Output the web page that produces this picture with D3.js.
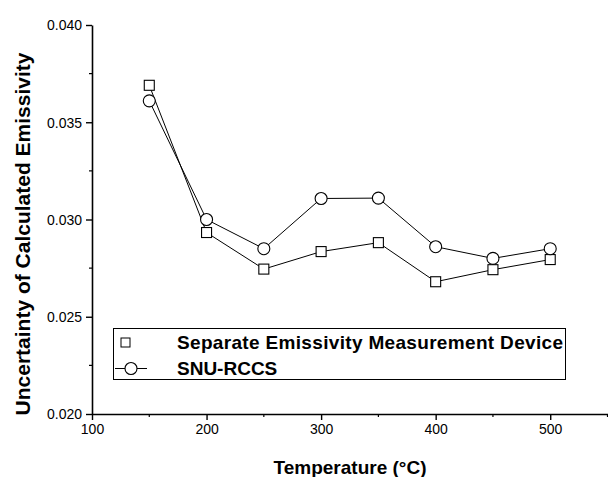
<!DOCTYPE html>
<html>
<head>
<meta charset="utf-8">
<script src="https://cdn.jsdelivr.net/npm/d3@7"></script>
<style>
  html, body { margin: 0; padding: 0; background: #fff; }
  svg { display: block; font-family: "Liberation Sans", Arial, sans-serif; }
</style>
</head>
<body>
<svg id="chart" width="608" height="477"></svg>
<script>
// Temperatures (°C) at which the uncertainty was evaluated
const temperatures = [150, 200, 250, 300, 350, 400, 450, 500];
// Uncertainty of calculated emissivity, per method
const separateDevice = [0.0369, 0.02933, 0.02745, 0.02835, 0.02881, 0.0268, 0.02742, 0.02794];
const snuRccs = [0.0361, 0.0300, 0.0285, 0.03108, 0.0311, 0.0286, 0.0280, 0.0285];
const seriesNames = ["Separate Emissivity Measurement Device", "SNU-RCCS"];
const xTicks = [100, 200, 300, 400, 500];
const xMinorTicks = [150, 250, 350, 450, 550];
const yTicks = [0.020, 0.025, 0.030, 0.035, 0.040];
const yMinorTicks = [0.0225, 0.0275, 0.0325, 0.0375];

const svg = d3.select("#chart");

const x = d3.scaleLinear().domain([100, 550]).range([92, 607.5]);
const y = d3.scaleLinear().domain([0.020, 0.040]).range([414, 25]);

// Axes
const xAxis = d3.axisBottom(x).tickValues(xTicks).tickFormat(d3.format("d"))
  .tickSizeInner(6).tickSizeOuter(0).tickPadding(4);
const yAxis = d3.axisLeft(y).tickValues(yTicks).tickFormat(d3.format(".3f"))
  .tickSizeInner(6).tickSizeOuter(0).tickPadding(4);

const gx = svg.append("g").attr("transform", `translate(0,${y.range()[0]})`).call(xAxis);
const gy = svg.append("g").attr("transform", `translate(${x.range()[0]},0)`).call(yAxis);

[gx, gy].forEach(g => {
  g.select(".domain").attr("stroke", "#000").attr("stroke-width", 1.6);
  g.selectAll(".tick line").attr("stroke", "#000").attr("stroke-width", 1.4);
  g.selectAll(".tick text").attr("fill", "#000").attr("font-size", 14)
    .attr("font-family", "'Liberation Sans', Arial, sans-serif");
});
gy.selectAll(".tick text").attr("dy", "0.35em");

// Minor ticks
svg.append("g").selectAll("line").data(xMinorTicks).join("line")
  .attr("x1", d => x(d)).attr("x2", d => x(d))
  .attr("y1", y.range()[0]).attr("y2", y.range()[0] + 3)
  .attr("stroke", "#000").attr("stroke-width", 1.2);
svg.append("g").selectAll("line").data(yMinorTicks).join("line")
  .attr("x1", x.range()[0] - 3).attr("x2", x.range()[0])
  .attr("y1", d => y(d)).attr("y2", d => y(d))
  .attr("stroke", "#000").attr("stroke-width", 1.2);

// Axis titles
svg.append("text")
  .attr("x", 350).attr("y", 474)
  .attr("text-anchor", "middle")
  .attr("font-size", 19).attr("font-weight", "bold")
  .text("Temperature (°C)");
svg.append("text")
  .attr("transform", "translate(30,234) rotate(-90)")
  .attr("text-anchor", "middle")
  .attr("font-size", 21).attr("font-weight", "bold")
  .text("Uncertainty of Calculated Emissivity");

// Lines
const line = d3.line().x((d, i) => x(temperatures[i])).y(d => y(d));
svg.append("path").datum(separateDevice).attr("d", line)
  .attr("fill", "none").attr("stroke", "#000").attr("stroke-width", 1);
svg.append("path").datum(snuRccs).attr("d", line)
  .attr("fill", "none").attr("stroke", "#000").attr("stroke-width", 1);

// Markers
const sq = 10;
svg.append("g").selectAll("rect").data(separateDevice).join("rect")
  .attr("x", (d, i) => x(temperatures[i]) - sq / 2)
  .attr("y", d => y(d) - sq / 2)
  .attr("width", sq).attr("height", sq)
  .attr("fill", "#fff").attr("stroke", "#000").attr("stroke-width", 1.1);
svg.append("g").selectAll("circle").data(snuRccs).join("circle")
  .attr("cx", (d, i) => x(temperatures[i]))
  .attr("cy", d => y(d))
  .attr("r", 6)
  .attr("fill", "#fff").attr("stroke", "#000").attr("stroke-width", 1.1);

// Legend
const lg = svg.append("g");
lg.append("rect").attr("x", 113.5).attr("y", 328.5).attr("width", 452).attr("height", 51)
  .attr("fill", "#fff").attr("stroke", "#000").attr("stroke-width", 1);
lg.append("rect").attr("x", 121).attr("y", 338).attr("width", 9).attr("height", 9)
  .attr("fill", "#fff").attr("stroke", "#000").attr("stroke-width", 1);
lg.append("line").attr("x1", 115).attr("x2", 147).attr("y1", 368.5).attr("y2", 368.5)
  .attr("stroke", "#000").attr("stroke-width", 1);
lg.append("circle").attr("cx", 131).attr("cy", 368.5).attr("r", 6)
  .attr("fill", "#fff").attr("stroke", "#000").attr("stroke-width", 1.1);
lg.selectAll("text.lab").data(seriesNames).join("text")
  .attr("class", "lab")
  .attr("x", 177).attr("y", (d, i) => 349 + i * 26)
  .attr("font-size", 19).attr("font-weight", "bold")
  .attr("textLength", (d, i) => i === 0 ? 386 : null)
  .text(d => d);
</script>
</body>
</html>
